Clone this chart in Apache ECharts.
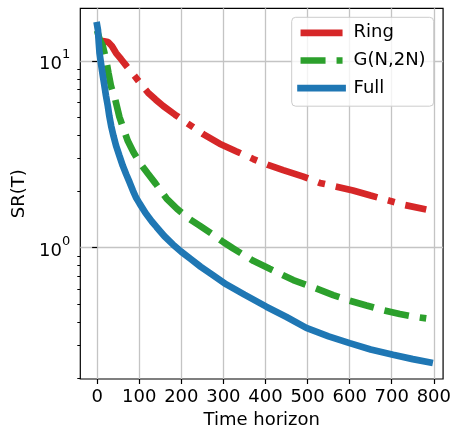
<!DOCTYPE html>
<html><head><meta charset="utf-8">
<script src="https://cdn.jsdelivr.net/npm/echarts@6/dist/echarts.min.js"></script>
<style>html,body{margin:0;padding:0;background:#fff}#c{width:454px;height:434px}</style>
</head><body><div id="c"></div>
<script>
const FONT = 'DejaVu Sans';
const ringT = [0, 8, 17, 26, 35, 45, 57, 70, 89, 105, 121, 139, 157, 185, 212, 252, 291, 330, 371, 406, 442, 490, 529, 569, 608, 650, 695, 731, 782];
const ringV = [13.0, 12.8, 12.7, 12.6, 12.0, 11.0, 10.2, 9.36, 8.3, 7.45, 6.75, 6.2, 5.73, 5.15, 4.67, 4.05, 3.6, 3.28, 2.98, 2.77, 2.6, 2.4, 2.22, 2.12, 2.02, 1.9, 1.78, 1.69, 1.60];
const gT = [0, 6, 13.5, 21, 27, 33, 43, 53, 63, 73, 86, 101, 120, 139, 165, 190, 220, 244, 276, 300, 323, 371, 410, 466, 520, 561, 600, 640, 680, 719, 750, 782];
const gV = [14.5, 13.0, 12.0, 10.2, 8.6, 7.3, 6.2, 5.0, 4.3, 3.72, 3.25, 2.85, 2.5, 2.2, 1.83, 1.61, 1.42, 1.31, 1.17, 1.07, 0.99, 0.85, 0.77, 0.67, 0.605, 0.557, 0.52, 0.49, 0.462, 0.441, 0.428, 0.418];
const fullT = [0, 2, 4, 5.7, 8, 11.2, 14, 17.5, 21, 25.4, 29, 33.3, 39, 45, 53, 61, 69, 77, 85, 92, 101, 115, 130, 141, 160, 180, 200, 222, 246, 272, 307, 350, 402, 450, 497, 550, 600, 650, 703, 750, 790];
const fullV = [15.5, 14.6, 12.4, 11.0, 10.1, 9.0, 8.2, 7.3, 6.5, 5.73, 5.05, 4.48, 3.95, 3.51, 3.1, 2.74, 2.47, 2.24, 2.02, 1.86, 1.72, 1.53, 1.38, 1.29, 1.15, 1.04, 0.95, 0.87, 0.79, 0.72, 0.635, 0.56, 0.483, 0.425, 0.372, 0.335, 0.308, 0.285, 0.267, 0.253, 0.243];
const xTicks = [0, 100, 200, 300, 400, 500, 600, 700, 800];
const yMajor = [1, 10];
const yMinor = [0.2, 0.3, 0.4, 0.5, 0.6, 0.7, 0.8, 0.9, 2, 3, 4, 5, 6, 7, 8, 9];
const names = ['Ring', 'G(N,2N)', 'Full'];
const colors = ['#d62728', '#2ca02c', '#1f77b4'];

const pairs = (t, v) => t.map((x, i) => [x, v[i]]);
const chart = echarts.init(document.getElementById('c'), null, {renderer: 'canvas'});
const LW = 6.7;
chart.setOption({
  animation: false,
  backgroundColor: '#fff',
  textStyle: {fontFamily: FONT},
  grid: {left: 80.3, right: 10.7, top: 8.3, bottom: 53, show: true, borderColor: '#000', borderWidth: 1.2, backgroundColor: 'transparent'},
  legend: {
    data: names, orient: 'vertical', left: 291.7, top: 17.3,
    padding: [5.5, 8, 8, 5.5], itemWidth: 42, itemHeight: 20, itemGap: 7.7,
    backgroundColor: 'rgba(255,255,255,0.8)', borderColor: '#cccccc', borderWidth: 1, borderRadius: 4,
    itemStyle: {opacity: 0},
    lineStyle: {width: LW},
    textStyle: {fontFamily: FONT, fontSize: 18, color: '#000', lineHeight: 20, padding: [0, 0, 0, 6]}
  },
  xAxis: {
    type: 'value', min: -40, max: 822,
    axisLine: {show: false},
    axisTick: {show: true, customValues: xTicks, length: 5, lineStyle: {color: '#000', width: 1.2}},
    axisLabel: {customValues: xTicks, margin: 9, fontFamily: FONT, fontSize: 18, color: '#000'},
    splitLine: {show: true, lineStyle: {color: '#c4c4c4', width: 1.3}},
    name: 'Time horizon', nameLocation: 'middle', nameGap: 32,
    nameTextStyle: {fontFamily: FONT, fontSize: 18, color: '#000'}
  },
  yAxis: [{
    type: 'log', logBase: 10, min: 0.198, max: 19.1, position: 'left',
    axisLine: {show: false},
    axisTick: {show: true, customValues: yMajor, length: 5, lineStyle: {color: '#000', width: 1.2}},
    axisLabel: {
      customValues: yMajor, margin: 10,
      formatter: v => '{b|10}{s|' + Math.round(Math.log10(v)) + '}',
      rich: {
        b: {fontFamily: FONT, fontSize: 18, color: '#000', lineHeight: 25.6, verticalAlign: 'bottom'},
        s: {fontFamily: FONT, fontSize: 13, color: '#000', lineHeight: 13, verticalAlign: 'top'}
      }
    },
    splitLine: {show: true, lineStyle: {color: '#c4c4c4', width: 1.3}},
    name: 'SR(T)', nameLocation: 'middle', nameGap: 47,
    nameTextStyle: {fontFamily: FONT, fontSize: 18, color: '#000'}
  }, {
    type: 'log', logBase: 10, min: 0.198, max: 19.1, position: 'left',
    axisLine: {show: false},
    axisTick: {show: true, customValues: yMinor, length: 3, lineStyle: {color: '#000', width: 1}},
    axisLabel: {show: false},
    splitLine: {show: false}
  }],
  series: [
    {name: names[0], type: 'line', data: pairs(ringT, ringV), symbol: 'none', showSymbol: false,
     itemStyle: {color: colors[0]}, lineStyle: {color: colors[0], width: LW, type: [43, 11, 7, 11]}},
    {name: names[1], type: 'line', data: pairs(gT, gV), symbol: 'none', showSymbol: false,
     itemStyle: {color: colors[1]}, lineStyle: {color: colors[1], width: LW, type: [25, 11]}},
    {name: names[2], type: 'line', data: pairs(fullT, fullV), symbol: 'none', showSymbol: false,
     itemStyle: {color: colors[2]}, lineStyle: {color: colors[2], width: LW, cap: 'square'}}
  ]
});
</script></body></html>
